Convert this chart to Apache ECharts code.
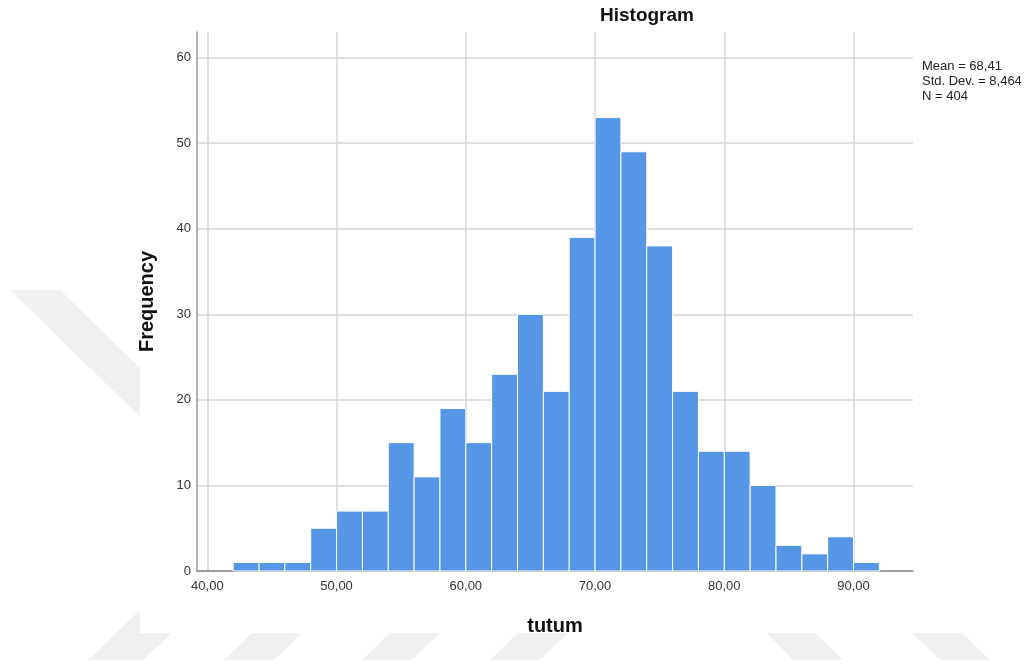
<!DOCTYPE html>
<html>
<head>
<meta charset="utf-8">
<title>Histogram</title>
<script src="https://cdn.jsdelivr.net/npm/echarts@6/dist/echarts.min.js"></script>
<style>
  html, body { margin: 0; padding: 0; background: #ffffff; }
  #chart { width: 1033px; height: 669px; }
</style>
</head>
<body>
<div id="chart"></div>
<script>
// Histogram of "tutum": bins of width 2, starting at each value below
const binStart = [42, 44, 46, 48, 50, 52, 54, 56, 58, 60, 62, 64, 66, 68, 70, 72, 74, 76, 78, 80, 82, 84, 86, 88, 90];
const counts   = [ 1,  1,  1,  5,  7,  7, 15, 11, 19, 15, 23, 30, 21, 39, 53, 49, 38, 21, 14, 14, 10,  3,  2,  4,  1];
const binWidth = 2;

const xTicks = [40, 50, 60, 70, 80, 90];
const yTicks = [0, 10, 20, 30, 40, 50, 60];
const statLines = ['Mean = 68,41', 'Std. Dev. = 8,464', 'N = 404'];

const FONT = '"Liberation Sans", Arial, sans-serif';
const BAR_COLOR = '#5596e6';
const GRID_COLOR = '#d6d6d6';
const WM_COLOR = '#f0f0f0';

const fmtComma = v => v.toFixed(2).replace('.', ',');

const histData = binStart.map((s, i) => [s, s + binWidth, counts[i]]);

// light grey background mark shapes
const wmShapes = [
  [[10, 290], [60, 290], [140, 368], [140, 417]],
  [[140, 610], [140, 633], [172, 633], [143, 660], [88, 660]],
  [[252, 633], [302, 633], [274, 660], [224, 660]],
  [[390, 633], [440, 633], [412, 660], [362, 660]],
  [[518, 633], [568, 633], [540, 660], [490, 660]],
  [[767, 633], [815, 633], [843, 660], [793, 660]],
  [[912, 633], [962, 633], [990, 660], [940, 660]]
];

const chart = echarts.init(document.getElementById('chart'), null, { renderer: 'canvas' });

chart.setOption({
  backgroundColor: '#ffffff',
  animation: false,
  title: {
    text: 'Histogram',
    left: 600,
    top: 6,
    padding: 0,
    textStyle: { fontFamily: FONT, fontSize: 19, fontWeight: 'bold', color: '#111' }
  },
  graphic: [
    ...wmShapes.map(pts => ({
      type: 'polygon',
      silent: true,
      z: -10,
      shape: { points: pts },
      style: { fill: WM_COLOR }
    })),
    {
      type: 'text',
      left: 922,
      top: 59,
      silent: true,
      style: {
        text: statLines.join('\n'),
        font: '13px ' + FONT,
        lineHeight: 15,
        fill: '#222'
      }
    }
  ],
  grid: { left: 197, right: 120, top: 32, bottom: 98, containLabel: false },
  xAxis: {
    type: 'value',
    min: 39.2,
    max: 94.6,
    name: 'tutum',
    nameLocation: 'middle',
    nameGap: 45,
    nameTextStyle: { fontFamily: FONT, fontSize: 20, fontWeight: 'bold', color: '#111' },
    axisLine: { show: true, onZero: false, lineStyle: { color: '#888', width: 1.5 } },
    axisTick: { show: false, customValues: xTicks },
    axisLabel: {
      customValues: xTicks,
      formatter: v => fmtComma(v),
      fontFamily: FONT, fontSize: 13, color: '#333', margin: 9
    },
    splitLine: { show: true, lineStyle: { color: GRID_COLOR, width: 1.5 } }
  },
  yAxis: {
    type: 'value',
    min: 0,
    max: 63,
    name: 'Frequency',
    nameLocation: 'middle',
    nameRotate: 90,
    nameGap: 40,
    nameTextStyle: { fontFamily: FONT, fontSize: 20, fontWeight: 'bold', color: '#111' },
    axisLine: { show: true, lineStyle: { color: '#999', width: 1.5 } },
    axisTick: { show: false, customValues: yTicks },
    axisLabel: {
      customValues: yTicks,
      fontFamily: FONT, fontSize: 13, color: '#333', margin: 6
    },
    splitLine: { show: true, lineStyle: { color: GRID_COLOR, width: 1.5 } }
  },
  series: [{
    type: 'custom',
    data: histData,
    encode: { x: [0, 1], y: 2 },
    z: 5,
    renderItem: function (params, api) {
      const p0 = api.coord([api.value(0), api.value(2)]);
      const p1 = api.coord([api.value(1), 0]);
      return {
        type: 'rect',
        shape: { x: p0[0], y: p0[1], width: p1[0] - p0[0], height: p1[1] - p0[1] },
        style: { fill: BAR_COLOR, stroke: '#ffffff', lineWidth: 1 }
      };
    }
  }]
});
</script>
</body>
</html>
